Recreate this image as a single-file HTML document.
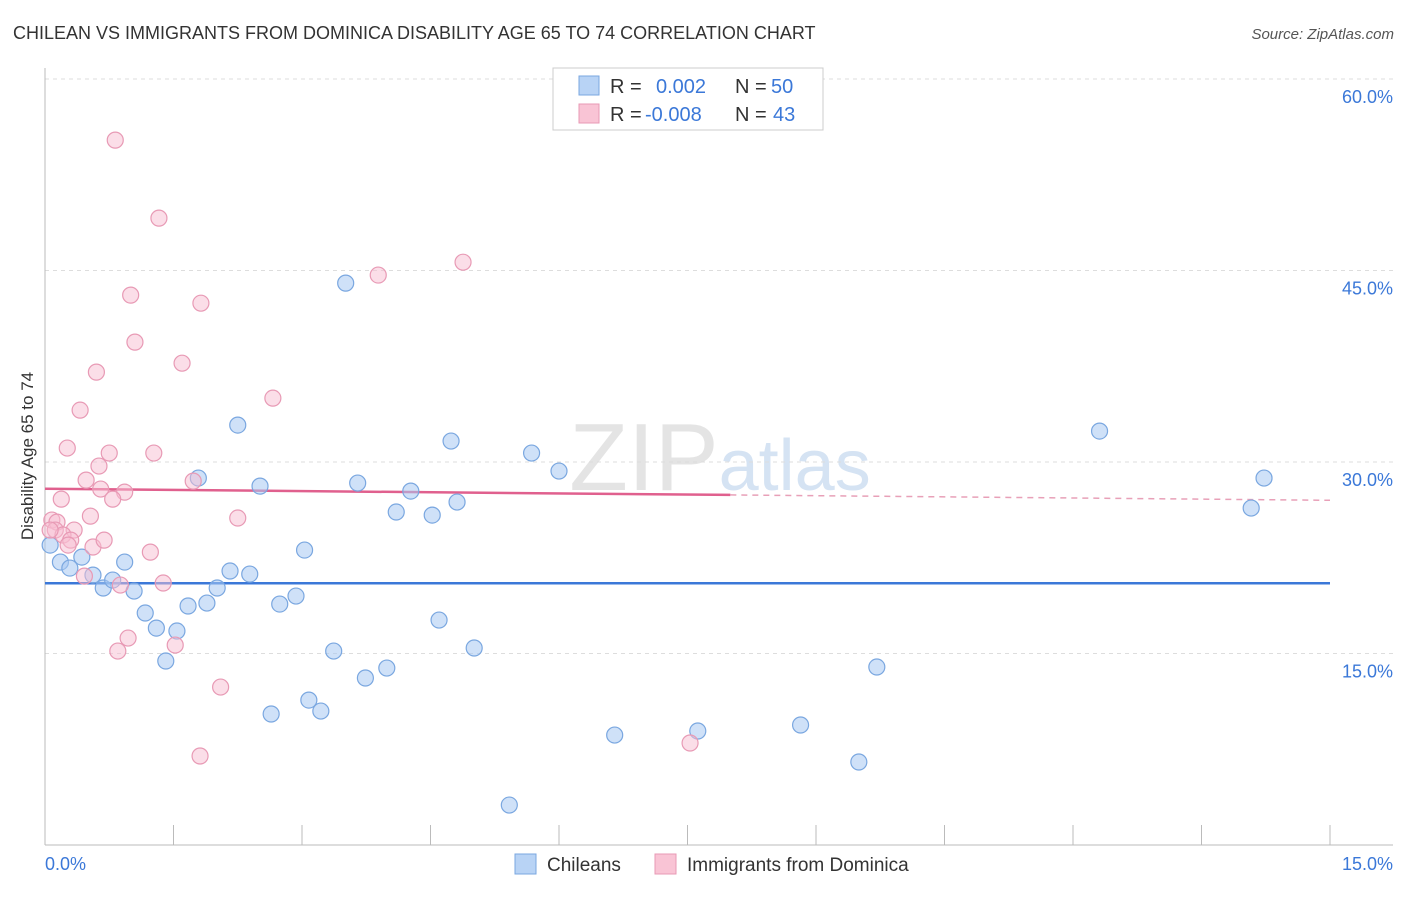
<!DOCTYPE html>
<html><head><meta charset="utf-8"><style>
body{margin:0;background:#fff;font-family:"Liberation Sans",sans-serif;}
svg text{font-family:"Liberation Sans",sans-serif;}
</style></head><body>
<svg id="chart" width="1406" height="892" viewBox="0 0 1406 892" xmlns="http://www.w3.org/2000/svg">
<text x="13" y="39" font-size="18" fill="#333">CHILEAN VS IMMIGRANTS FROM DOMINICA DISABILITY AGE 65 TO 74 CORRELATION CHART</text>
<text x="1394" y="39" font-size="15" fill="#555" text-anchor="end" font-style="italic">Source: ZipAtlas.com</text>
<text x="720" y="490" font-size="96" fill="#e4e4e4" text-anchor="middle" font-family="Liberation Serif">ZIP<tspan fill="#d5e3f3" font-family="Liberation Sans" font-size="72">atlas</tspan></text>
<text transform="translate(33,456) rotate(-90)" font-size="17" fill="#333" text-anchor="middle">Disability Age 65 to 74</text>
<g id="grid"></g><g id="axes"></g><g id="trends"></g><g id="pts"></g>
<g>
<rect x="553" y="68" width="270" height="62" fill="#fff" stroke="#ccc"/>
<rect x="579" y="76" width="20" height="19" fill="#b8d3f5" stroke="#7aa7e0"/>
<rect x="579" y="104" width="20" height="19" fill="#f9c4d5" stroke="#e89ab5"/>
<text x="610" y="93" font-size="20" fill="#333">R =  <tspan fill="#3b78d8" x="656">0.002</tspan><tspan x="735" fill="#333">N =</tspan><tspan x="771" fill="#3b78d8">50</tspan></text>
<text x="610" y="121" font-size="20" fill="#333">R = <tspan fill="#3b78d8" x="645">-0.008</tspan><tspan x="735" fill="#333">N =</tspan><tspan x="773" fill="#3b78d8">43</tspan></text>
</g>
<g>
<rect x="515" y="854" width="21" height="20" fill="#b8d3f5" stroke="#7aa7e0"/>
<text x="547" y="871" font-size="19" fill="#333">Chileans</text>
<rect x="655" y="854" width="21" height="20" fill="#f9c4d5" stroke="#e89ab5"/>
<text x="687" y="871" font-size="19" fill="#333">Immigrants from Dominica</text>
</g>
</svg>
<script>
const yTicks=[15,30,45,60];
const yTickLabels=["15.0%","30.0%","45.0%","60.0%"];
const xTickLabels=["0.0%","15.0%"];
const blueX=[0.18,0.29,0.43,0.56,0.68,0.79,0.93,1.04,1.17,1.30,1.41,1.54,1.67,1.79,1.89,2.01,2.16,2.25,2.39,2.51,2.64,2.74,2.93,3.03,3.08,3.22,3.37,3.51,3.65,3.74,3.99,4.10,4.27,4.52,4.60,4.74,4.81,5.01,5.42,5.68,6.00,6.65,7.62,8.82,9.50,9.71,12.31,14.08,14.23,0.06];
const blueY=[22.16,21.69,22.55,21.14,20.13,20.75,22.16,19.89,18.17,16.99,14.41,16.76,18.72,28.74,18.95,20.13,21.46,32.89,21.22,28.11,10.26,18.87,19.50,23.10,11.35,10.49,15.19,44.01,28.35,13.08,13.86,26.08,27.72,25.84,17.62,31.64,26.86,15.43,3.13,30.70,29.29,8.61,8.93,9.40,6.50,13.94,32.42,26.39,28.74,23.49];
const pinkX=[0.82,1.33,1.00,1.82,3.89,4.88,1.05,1.60,0.60,0.41,2.66,0.26,0.75,1.27,0.63,0.48,1.73,0.65,0.93,0.79,0.19,0.53,2.25,0.08,0.14,0.12,0.34,0.21,0.30,0.56,1.23,0.46,0.88,1.38,0.97,0.85,1.52,2.05,1.81,7.53,0.06,0.27,0.69];
const pinkY=[55.21,49.10,43.07,42.44,44.64,45.65,39.39,37.74,37.04,34.06,35.00,31.09,30.70,30.70,29.68,28.58,28.50,27.88,27.64,27.09,27.09,25.76,25.61,25.45,25.29,24.67,24.67,24.28,23.88,23.34,22.94,21.06,20.36,20.52,16.21,15.19,15.66,12.37,6.97,7.99,24.67,23.49,23.88];
const blueTrend=[20.5,20.5];
const pinkTrend=[27.9,27.0];
const NS="http://www.w3.org/2000/svg";
const X=v=>45+v/15*1285, Y=v=>845-v*12.767;
function mk(tag,attrs,parent){const e=document.createElementNS(NS,tag);for(const k in attrs)e.setAttribute(k,attrs[k]);document.getElementById(parent).appendChild(e);return e;}
yTicks.forEach((t,i)=>{
 const l=mk('line',{x1:45,x2:1393,y1:Y(t),y2:Y(t),stroke:'#ddd','stroke-dasharray':'4,4'},'grid');
 
 
 const tx=mk('text',{x:1393,y:Y(t)+24,'font-size':18,fill:'#3b78d8','text-anchor':'end'},'grid');
 tx.textContent=yTickLabels[i];
 
 
});
let a=mk('line',{x1:45,x2:45,y1:68,y2:845,stroke:'#bbb'},'axes');


a=mk('line',{x1:45,x2:1393,y1:845,y2:845,stroke:'#bbb'},'axes');


for(let i=0;i<=10;i++){const t=mk('line',{x1:X(i*1.5),x2:X(i*1.5),y1:825,y2:845,stroke:'#bbb'},'axes');
 
 }
let xt=mk('text',{x:45,y:870,'font-size':18,fill:'#3b78d8'},'axes');xt.textContent=xTickLabels[0];


xt=mk('text',{x:1393,y:870,'font-size':18,fill:'#3b78d8','text-anchor':'end'},'axes');xt.textContent=xTickLabels[1];


blueX.forEach((v,i)=>{const c=mk('circle',{cx:X(v),cy:Y(blueY[i]),r:8,fill:'rgba(168,200,242,0.55)',stroke:'#7aa7e0','stroke-width':1.2},'pts');
 
 });
pinkX.forEach((v,i)=>{const c=mk('circle',{cx:X(v),cy:Y(pinkY[i]),r:8,fill:'rgba(248,190,210,0.5)',stroke:'#e89ab5','stroke-width':1.2},'pts');
 
 });
let tl=mk('line',{x1:X(0),x2:X(15),y1:Y(blueTrend[0]),y2:Y(blueTrend[1]),stroke:'#3b78d8','stroke-width':2.5},'trends');


const pf=x=>pinkTrend[0]+(pinkTrend[1]-pinkTrend[0])*x/15;
tl=mk('line',{x1:X(0),x2:X(8),y1:Y(pf(0)),y2:Y(pf(8)),stroke:'#e0608e','stroke-width':2.5},'trends');


tl=mk('line',{x1:X(8),x2:X(15),y1:Y(pf(8)),y2:Y(pf(15)),stroke:'#e8a0b8','stroke-width':1.5,'stroke-dasharray':'6,5'},'trends');


</script>
</body></html>
